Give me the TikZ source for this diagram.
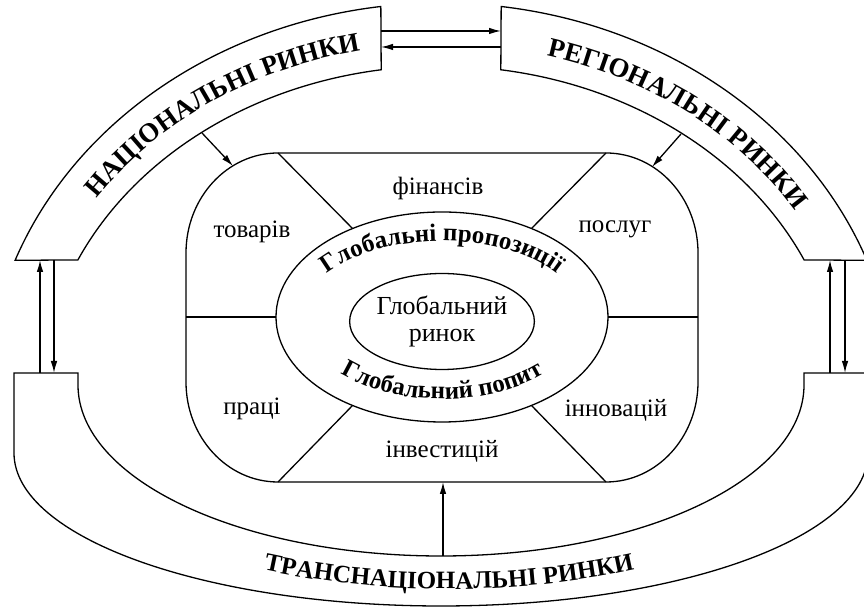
\documentclass[tikz,border=0pt]{standalone}
\usepackage{fontspec}
\setmainfont{Liberation Serif}
\usetikzlibrary{arrows.meta, decorations.text, shapes.geometric}
\newcommand{\bandfnt}{\bfseries\fontsize{27}{27}\selectfont}
\newcommand{\lowfnt}{\bfseries\fontsize{25}{25}\selectfont}
\newcommand{\ringfnt}{\bfseries\fontsize{25}{25}\selectfont}

\begin{document}
\begin{tikzpicture}[x=1pt, y=1pt, line width=1.3pt,
  arr/.style={-{Latex[length=12pt,width=6.5pt]}},
  sector/.style={anchor=base, font=\fontsize{25}{27}\selectfont},
  bandtext/.style={decorate, decoration={text along path, text align=center, text={|\bandfnt|#1}}},
  lowtext/.style={decorate, decoration={text along path, text align=center, text={|\lowfnt|#1}}},
  ringtext/.style={decorate, decoration={text along path, text align=center, text={|\ringfnt|#1}}}]
\useasboundingbox (0,0) rectangle (864,609);
\clip (0,0) rectangle (864,609);

\begin{scope}[shift={(441,209)}]
  \draw (159.4:455 and 397) arc[start angle=159.4, end angle=97.6, x radius=455, y radius=397]
    -- (98.6:400 and 334) arc[start angle=98.6, end angle=155.2, x radius=400, y radius=334] -- cycle;
  \draw (20.6:455 and 397) arc[start angle=20.6, end angle=82.4, x radius=455, y radius=397]
    -- (81.4:400 and 334) arc[start angle=81.4, end angle=24.8, x radius=400, y radius=334] -- cycle;
  \path[bandtext=НАЦІОНАЛЬНІ РИНКИ] (158:418 and 356) arc[start angle=158, end angle=90, x radius=418, y radius=356];
  \path[bandtext=РЕГІОНАЛЬНІ РИНКИ] (87:418 and 356) arc[start angle=87, end angle=19, x radius=418, y radius=356];
\end{scope}

\draw (14,236) -- (14,156) arc[start angle=180, end angle=360, x radius=427, y radius=153]
  -- (868,236) -- (804,236) -- (804,224) arc[start angle=0, end angle=-180, x radius=363, y radius=171]
  -- (78,236) -- cycle;
\path[lowtext=ТРАНСНАЦІОНАЛЬНІ РИНКИ] (449,189) ++(232:400 and 169) arc[start angle=232, end angle=308, x radius=400, y radius=169];

\draw (278,456) -- (606,456) arc[start angle=90, end angle=0, x radius=92, y radius=100]
  -- (698,227) arc[start angle=0, end angle=-90, x radius=92, y radius=100]
  -- (278,127) arc[start angle=270, end angle=180, x radius=92, y radius=100]
  -- (186,356) arc[start angle=180, end angle=90, x radius=92, y radius=100] -- cycle;

\begin{scope}[shift={(442,292)}]
  \draw (0,0) ellipse[x radius=166, y radius=105];
  \coordinate (m-nw) at (122.6:166 and 105);
  \coordinate (m-ne) at (57.4:166 and 105);
  \coordinate (m-sw) at (237.4:166 and 105);
  \coordinate (m-se) at (302.6:166 and 105);
  \coordinate (m-w) at (180:166 and 105);
  \coordinate (m-e) at (0:166 and 105);
  \path[ringtext=Глобальні пропозиції] (170:140 and 76) arc[start angle=170, end angle=10, x radius=140, y radius=76];
  \path[ringtext=Глобальний попит] (192:141 and 82) arc[start angle=192, end angle=348, x radius=141, y radius=82];
\end{scope}

\node[draw, ellipse, minimum width=172pt, minimum height=96pt, inner sep=0pt, align=center,
  font=\fontsize{26}{27}\selectfont] (core) at (442,287.5) {Глобальний\\ринок};

\coordinate (c-nw) at (278,456);
\coordinate (c-ne) at (606,456);
\coordinate (c-sw) at (278,127);
\coordinate (c-se) at (606,127);
\coordinate (c-w) at (186,292);
\coordinate (c-e) at (698,292);
\draw (c-nw) -- (m-nw);
\draw (c-ne) -- (m-ne);
\draw (c-sw) -- (m-sw);
\draw (c-se) -- (m-se);
\draw (c-w) -- (m-w);
\draw (c-e) -- (m-e);

\node[sector] (fin) at (438,414) {фінансів};
\node[sector] (tov) at (252,371) {товарів};
\node[sector] (pos) at (615,376) {послуг};
\node[sector] (pra) at (252,194) {праці};
\node[sector] (inv) at (442,151) {інвестицій};
\node[sector] (inn) at (616,192) {інновацій};

\coordinate (nat-b1) at (40,349);
\coordinate (nat-b2) at (54,349);
\coordinate (tr-t1) at (40,236);
\coordinate (tr-t2) at (54,236);
\coordinate (reg-b1) at (830,349);
\coordinate (reg-b2) at (845,349);
\coordinate (tr-t3) at (830,236);
\coordinate (tr-t4) at (845,236);
\coordinate (nat-r1) at (381,578);
\coordinate (nat-r2) at (381,562);
\coordinate (reg-l1) at (501,578);
\coordinate (reg-l2) at (501,562);
\coordinate (nat-in) at (202,476);
\coordinate (core-nw) at (233,443);
\coordinate (reg-in) at (681,475);
\coordinate (core-ne) at (652,442);
\coordinate (tr-in) at (443,53);
\coordinate (core-s) at (443,127);

\draw[arr] (tr-t1) -- (nat-b1);
\draw[arr] (nat-b2) -- (tr-t2);
\draw[arr] (tr-t3) -- (reg-b1);
\draw[arr] (reg-b2) -- (tr-t4);
\draw[arr] (nat-r1) -- (reg-l1);
\draw[arr] (reg-l2) -- (nat-r2);
\draw[arr] (nat-in) -- (core-nw);
\draw[arr] (reg-in) -- (core-ne);
\draw[arr] (tr-in) -- (core-s);
\end{tikzpicture}
\end{document}
